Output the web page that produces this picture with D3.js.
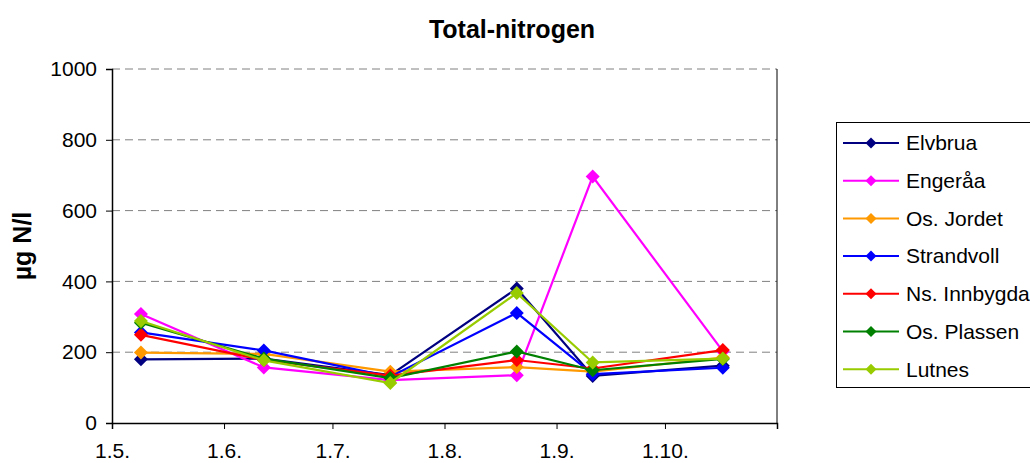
<!DOCTYPE html>
<html><head><meta charset="utf-8">
<script src="https://cdn.jsdelivr.net/npm/d3@7"></script>
<style>html,body{margin:0;padding:0;background:#fff;overflow:hidden;}svg{display:block;font-family:Arial,"Liberation Sans",sans-serif;}</style>
</head><body>
<svg id="chart" width="1030" height="463"></svg>
<script>
const sampleDates = ["2007-05-09","2007-06-12","2007-07-17","2007-08-21","2007-09-11","2007-10-17"];
const seriesNames = ["Elvbrua","Engeråa","Os. Jordet","Strandvoll","Ns. Innbygda","Os. Plassen","Lutnes"];
const seriesColors = ["#000080","#FF00FF","#FF9900","#0000FF","#FF0000","#008000","#99CC00"];
const elvbrua     = [180, 182, 135, 380, 133, 162];
const engeraa     = [308, 157, 121, 135, 696, 203];
const osJordet    = [199, 195, 145, 158, 145, 185];
const strandvoll  = [256, 205, 131, 311, 138, 156];
const nsInnbygda  = [249, 178, 134, 178, 154, 206];
const osPlassen   = [283, 182, 127, 202, 149, 181];
const lutnes      = [288, 177, 113, 367, 171, 182];
const seriesValues = [elvbrua, engeraa, osJordet, strandvoll, nsInnbygda, osPlassen, lutnes];
const xTickDates = ["2007-05-01","2007-06-01","2007-07-01","2007-08-01","2007-09-01","2007-10-01","2007-11-01"];
const xTickLabels = ["1.5.","1.6.","1.7.","1.8.","1.9.","1.10.",""];
const yTicks = [0,200,400,600,800,1000];
const titleText = "Total-nitrogen";
const yLabel = "µg N/l";

const svg = d3.select("#chart");
const parse = d3.utcParse("%Y-%m-%d");
const L = 112, R = 777, T = 69, B = 423;
const x = d3.scaleUtc().domain([parse(xTickDates[0]), parse(xTickDates[xTickDates.length-1])]).range([L, R]);
const y = d3.scaleLinear().domain([0, 1000]).range([B, T]);

// gridlines
svg.append("g").selectAll("line").data(yTicks.filter(d => d > 0)).join("line")
  .attr("x1", L).attr("x2", R).attr("y1", d => y(d)).attr("y2", d => y(d))
  .attr("stroke", "#808080").attr("stroke-width", 1).attr("stroke-dasharray", "8,5");

// right border
svg.append("line").attr("x1", R).attr("x2", R).attr("y1", T).attr("y2", B).attr("stroke", "#000").attr("stroke-width", 1);

// y axis
const yAxis = d3.axisLeft(y).tickValues(yTicks).tickSize(6).tickPadding(9).tickFormat(d3.format("d"));
const gy = svg.append("g").attr("transform", `translate(${L},0)`).call(yAxis);
gy.select(".domain").attr("stroke", "#000").attr("stroke-width", 1.5);
gy.selectAll(".tick line").attr("stroke", "#000");
gy.selectAll(".tick text").attr("font-size", 21).attr("font-family", "Arial, 'Liberation Sans', sans-serif").attr("fill", "#000");

// x axis
const xAxis = d3.axisBottom(x).tickValues(xTickDates.map(parse)).tickSize(6).tickPadding(14)
  .tickFormat((d, i) => xTickLabels[i]);
const gx = svg.append("g").attr("transform", `translate(0,${B})`).call(xAxis);
gx.select(".domain").attr("stroke", "#000").attr("stroke-width", 1.5);
gx.selectAll(".tick line").attr("stroke", "#000");
gx.selectAll(".tick text").attr("font-size", 21).attr("font-family", "Arial, 'Liberation Sans', sans-serif").attr("fill", "#000");

// series
const diamond = s => `M0,${-s}L${s},0L0,${s}L${-s},0Z`;
const line = d3.line().x(d => x(d.date)).y(d => y(d.v));
seriesNames.forEach((name, i) => {
  const pts = seriesValues[i].map((v, j) => ({date: parse(sampleDates[j]), v}));
  const g = svg.append("g");
  g.append("path").datum(pts).attr("d", line).attr("fill", "none").attr("stroke", seriesColors[i]).attr("stroke-width", 2.2);
  g.selectAll("path.m").data(pts).join("path").attr("class", "m")
    .attr("transform", d => `translate(${x(d.date)},${y(d.v)})`)
    .attr("d", diamond(7)).attr("fill", seriesColors[i]);
});

// title
svg.append("text").attr("x", 512).attr("y", 38).attr("text-anchor", "middle")
  .attr("font-size", 25).attr("font-weight", "bold").text(titleText);
// y label
svg.append("text").attr("transform", "translate(31,246) rotate(-90)").attr("text-anchor", "middle")
  .attr("font-size", 25).attr("font-weight", "bold").text(yLabel);

// legend
const lg = svg.append("g");
lg.append("rect").attr("x", 836.5).attr("y", 122.5).attr("width", 200).attr("height", 265)
  .attr("fill", "#fff").attr("stroke", "#000").attr("stroke-width", 1);
seriesNames.forEach((name, i) => {
  const cy = 143 + i * 37.7;
  lg.append("line").attr("x1", 843).attr("x2", 899).attr("y1", cy).attr("y2", cy).attr("stroke", seriesColors[i]).attr("stroke-width", 2);
  lg.append("path").attr("transform", `translate(871,${cy})`).attr("d", diamond(5.5)).attr("fill", seriesColors[i]);
  lg.append("text").attr("x", 906).attr("y", cy).attr("dy", "0.35em").attr("font-size", 21).text(name);
});
</script>
</body></html>
